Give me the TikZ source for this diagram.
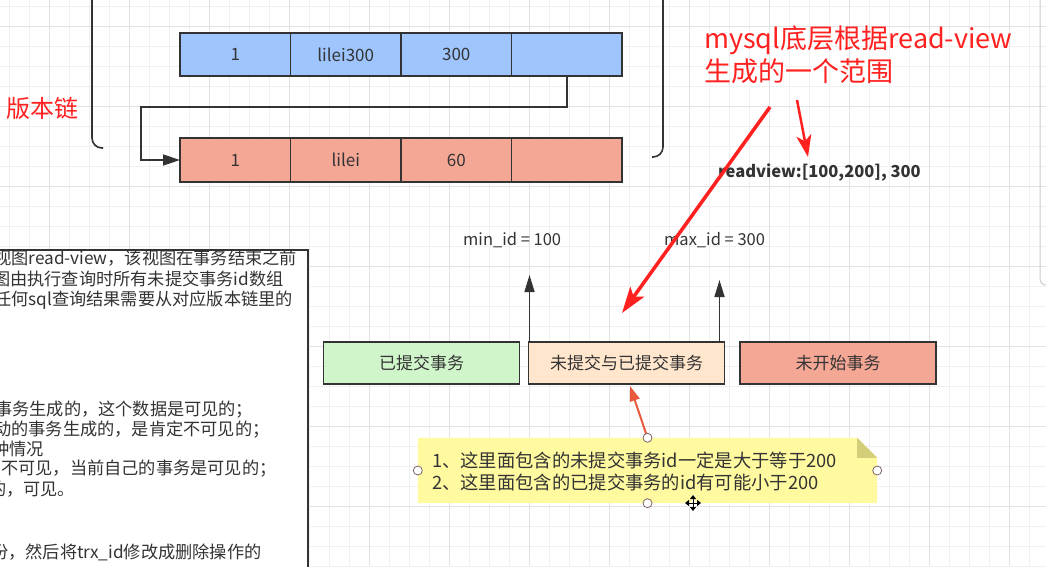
\documentclass[tikz,border=0pt]{standalone}
\usepackage{fontspec}
\setmainfont{Noto Sans CJK SC}
\usetikzlibrary{positioning,arrows.meta}

\definecolor{linec}{HTML}{333333}
\definecolor{bluefill}{HTML}{9EC5FE}
\definecolor{redfill}{HTML}{F5A796}
\definecolor{greenfill}{HTML}{D0F5CA}
\definecolor{beigefill}{HTML}{FFE6CC}
\definecolor{notefill}{HTML}{FFF9A0}
\definecolor{foldfill}{HTML}{D4CD7A}
\definecolor{annred}{HTML}{FF2020}
\definecolor{arrowor}{HTML}{E8593C}
\definecolor{handlec}{HTML}{7F6464}
\definecolor{gridminor}{HTML}{F0F0F0}
\definecolor{gridmajor}{HTML}{E2E2E2}
\definecolor{panelc}{HTML}{CCCCCC}

\tikzset{
  cell/.style={draw=linec, line width=1.6pt, minimum width=110.5pt, minimum height=43.5pt,
    inner sep=0pt, outer sep=0pt, text=linec, font=\fontsize{17}{20}\selectfont},
  bluecell/.style={cell, fill=bluefill},
  redcell/.style={cell, fill=redfill},
  rangebox/.style={draw=linec, line width=1.8pt, minimum width=196pt, minimum height=42pt,
    inner sep=0pt, outer sep=0pt, text=linec, font=\fontsize{17}{20}\selectfont},
  conn/.style={draw=linec, line width=1.6pt},
  bracket/.style={draw=linec, line width=1.6pt, rounded corners=10pt},
  desc/.style={anchor=west, inner sep=0pt, text=linec, font=\fontsize{17.2}{20}\selectfont},
  plain/.style={anchor=west, inner sep=0pt, text=linec, font=\fontsize{16.5}{20}\selectfont},
  handle/.style={circle, draw=handlec, fill=white, line width=0.8pt, minimum size=9pt, inner sep=0pt},
  redann/.style={draw=annred, fill=annred, line width=3pt},
}

\begin{document}
\begin{tikzpicture}[x=1pt, y=-1pt]

\useasboundingbox (0,0) rectangle (1046,566);
\clip (0,0) rectangle (1046,566);
\fill [white] (0,0) rectangle (1046,566);

% grid of the canvas
\foreach \gx in {9,29,...,1049} \draw [gridminor, line width=0.8pt] (\gx,0) -- (\gx,566);
\foreach \gy in {6,26,...,566} \draw [gridminor, line width=0.8pt] (0,\gy) -- (1046,\gy);
\foreach \gx in {49,129,...,1049} \draw [gridmajor, line width=1pt] (\gx,0) -- (\gx,566);
\foreach \gy in {26,106,...,566} \draw [gridmajor, line width=1pt] (0,\gy) -- (1046,\gy);
\draw [panelc, line width=1pt, rounded corners=6pt] (1040,-5) -- (1040,285) -- (1052,285);

% version chain
\draw [bracket] (92,-10) -- (92,148) -- (103,148);
\draw [bracket] (663,-10) -- (663,157) -- (652,157);

\node (b1) [bluecell] at (235.25,54.5) {1};
\node (b2) [bluecell, right=0pt of b1] {lilei300};
\node (b3) [bluecell, right=0pt of b2] {300};
\node (b4) [bluecell, right=0pt of b3] {};

\node (r1) [redcell] at (235.25,160) {1};
\node (r2) [redcell, right=0pt of r1] {lilei};
\node (r3) [redcell, right=0pt of r2] {60};
\node (r4) [redcell, right=0pt of r3] {};

\draw [conn, -{Triangle[length=17pt,width=11pt]}] (b4.south) -- ++(0,30.5) -| ([xshift=-39pt]r1.west) -- (r1.west);

\node (chain) [anchor=west, inner sep=0pt, text=annred, font=\fontsize{24}{28}\selectfont] at (6,108) {版本链};

% explanation box (cut off)
\node (descbox) [draw=linec, line width=1.6pt, fill=white, minimum width=320pt, minimum height=330pt,
  inner sep=0pt, anchor=north east] at (309,249) {};
\node [desc] at (-6,258) {视图read-view，该视图在事务结束之前};
\node [desc] at (-7,279) {图由执行查询时所有未提交事务id数组};
\node [desc] at (-6,300) {任何sql查询结果需要从对应版本链里的};
\node [desc] at (-5,410) {事务生成的，这个数据是可见的；};
\node [desc] at (-6,430) {动的事务生成的，是肯定不可见的；};
\node [desc] at (-8,449) {种情况};
\node [desc] at (1,469) {不可见，当前自己的事务是可见的；};
\node [desc] at (-11,489) {的，可见。};
\node [desc] at (-9,552) {份，然后将trx\_id修改成删除操作的};

% read-view range
\node (rvnote) [anchor=west, align=left, inner sep=0pt, text=annred, font=\fontsize{27}{33}\selectfont] at (704,55) {mysql底层根据read-view\\生成的一个范围};
\node (rv) [plain, font=\bfseries\fontsize{16.5}{20}\selectfont] at (718,173) {readview:[100,200], 300};

\node (minid) [plain] at (463,240) {min\_id = 100};
\node (maxid) [plain] at (664,240) {max\_id = 300};

\node (done) [rangebox, fill=greenfill] at (421.5,363) {已提交事务};
\node (mixed) [rangebox, fill=beigefill] at (626.5,363) {未提交与已提交事务};
\node (todo) [rangebox, fill=redfill] at (838,363) {未开始事务};

\coordinate (mintip) at ([xshift=1pt, yshift=67pt]mixed.north west);
\coordinate (maxtip) at ([xshift=-5pt, yshift=62pt]mixed.north east);
\draw [conn, -{Triangle[length=17pt,width=10pt]}] ([xshift=1pt]mixed.north west) -- (mintip);
\draw [conn, -{Triangle[length=17pt,width=10pt]}] ([xshift=-5pt]mixed.north east) -- (maxtip);

% note
\node (note) [minimum width=459pt, minimum height=65pt, inner sep=0pt] at (647.5,470.5) {};
\fill [notefill] (note.north west) -- ([xshift=-20pt]note.north east) -- ([yshift=-20pt]note.north east)
  -- (note.south east) -- (note.south west) -- cycle;
\fill [foldfill] ([xshift=-20pt]note.north east) -- ([xshift=-20pt, yshift=-20pt]note.north east)
  -- ([yshift=-20pt]note.north east) -- cycle;
\node (notetext) [anchor=west, align=left, inner sep=0pt, text=linec, font=\fontsize{18.3}{22}\selectfont] at (432,471)
  {1、这里面包含的未提交事务id一定是大于等于200\\2、这里面包含的已提交事务的id有可能小于200};

\draw [arrowor, line width=2pt, -{Triangle[length=15pt,width=10pt]}] (note.north) -- ([xshift=3.5pt, yshift=-2pt]mixed.south);

\node (hn) [handle] at (note.north) {};
\node (hw) [handle] at (note.west) {};
\node (he) [handle] at (note.east) {};
\node (hs) [handle] at (note.south) {};

\coordinate (cursor) at (693,503);
\draw [white, line width=3pt] ([xshift=-8pt]cursor) -- ([xshift=8pt]cursor) ([yshift=-8pt]cursor) -- ([yshift=8pt]cursor);
\draw [black, line width=1pt, {Triangle[length=4pt,width=6pt]}-{Triangle[length=4pt,width=6pt]}] ([xshift=-8pt]cursor) -- ([xshift=8pt]cursor);
\draw [black, line width=1pt, {Triangle[length=4pt,width=6pt]}-{Triangle[length=4pt,width=6pt]}] ([yshift=-8pt]cursor) -- ([yshift=8pt]cursor);

% red marks
\coordinate (a1s) at (797,100);
\coordinate (a1e) at (808,157);
\coordinate (a2s) at (770,107);
\coordinate (a2e) at (622,313);
\draw [redann, line width=2.5pt, -{Stealth[length=22pt,width=15pt,inset=6pt]}] (a1s) -- (a1e);
\draw [redann, line width=3.5pt, -{Stealth[length=26pt,width=17pt,inset=6pt]}] (a2s) -- (a2e);

\end{tikzpicture}
\end{document}
